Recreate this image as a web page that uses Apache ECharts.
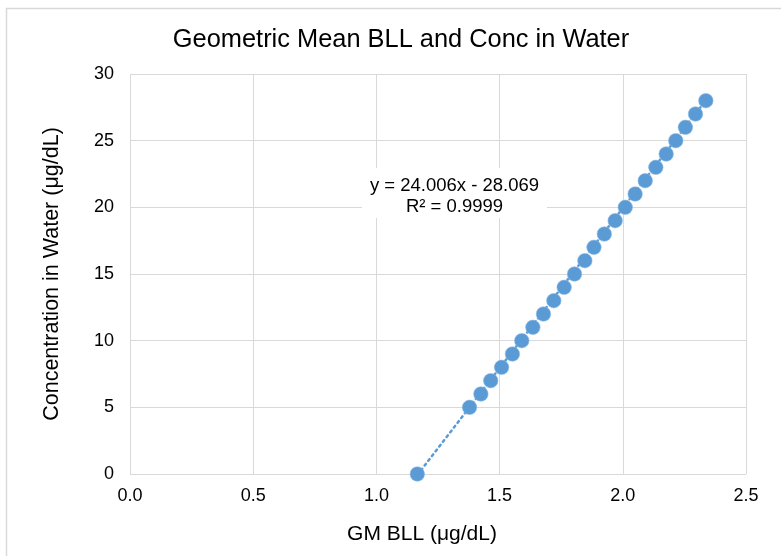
<!DOCTYPE html>
<html>
<head>
<meta charset="utf-8">
<script src="https://cdn.jsdelivr.net/npm/echarts@6/dist/echarts.min.js"></script>
<style>
html,body{margin:0;padding:0;background:#fff;}
#chart{width:781px;height:556px;}
</style>
</head>
<body>
<div id="chart"></div>
<script>
// Data
const gmBLL = [1.166, 1.378, 1.424, 1.464, 1.508, 1.552, 1.590, 1.635, 1.678, 1.720, 1.762, 1.804, 1.846, 1.883, 1.925, 1.969, 2.010, 2.050, 2.091, 2.134, 2.176, 2.215, 2.254, 2.295, 2.337];
const concWater = [0, 5, 6, 7, 8, 9, 10, 11, 12, 13, 14, 15, 16, 17, 18, 19, 20, 21, 22, 23, 24, 25, 26, 27, 28];
// Linear trendline as shown in the reference
const trendSlope = 24.006;
const trendIntercept = -28.069;
const trendR2 = '0.9999';
const trendRangeX = [1.166, 2.337];

const titleText = 'Geometric Mean BLL and Conc in Water';
const xAxisName = 'GM BLL (μg/dL)';
const yAxisName = 'Concentration in Water (μg/dL)';

const points = gmBLL.map((x, i) => [x, concWater[i]]);
const trendPts = trendRangeX.map(x => [x, trendSlope * x + trendIntercept]);

const chart = echarts.init(document.getElementById('chart'));
const FONT = 'Liberation Sans, Arial, sans-serif';
const option = {
  animation: false,
  backgroundColor: '#ffffff',
  textStyle: { fontFamily: FONT },
  title: {
    text: titleText,
    left: 396, top: 22, textAlign: 'center',
    textStyle: { fontFamily: FONT, fontSize: 25.4, fontWeight: 'normal', color: '#000000' }
  },
  grid: { left: 130, right: 35, top: 74, bottom: 82, containLabel: false, outerBoundsMode: 'none' },
  xAxis: {
    type: 'value', min: 0, max: 2.5, interval: 0.5,
    name: xAxisName, nameLocation: 'middle', nameGap: 50,
    nameTextStyle: { fontFamily: FONT, fontSize: 21, color: '#000000', padding: [0, 32, 0, 0] },
    axisLine: { show: false }, axisTick: { show: false },
    axisLabel: { fontFamily: FONT, fontSize: 18, color: '#000000', margin: 13, formatter: v => v.toFixed(1) },
    splitLine: { show: true, lineStyle: { color: '#d9d9d9', width: 1 } }
  },
  yAxis: {
    type: 'value', min: 0, max: 30, interval: 5,
    name: yAxisName, nameLocation: 'middle', nameGap: 67,
    nameTextStyle: { fontFamily: FONT, fontSize: 21.5, color: '#000000' },
    axisLine: { show: false }, axisTick: { show: false },
    axisLabel: { fontFamily: FONT, fontSize: 18, color: '#000000', margin: 16 },
    splitLine: { show: true, lineStyle: { color: '#d9d9d9', width: 1 } }
  },
  series: [
    {
      type: 'line', data: trendPts, symbol: 'none', z: 2,
      lineStyle: { color: '#5b9bd5', width: 2.5, type: [2, 4], cap: 'round' }
    },
    {
      type: 'scatter', data: points, symbol: 'circle', symbolSize: 14.5, z: 3,
      itemStyle: { color: '#5b9bd5', opacity: 1, borderColor: '#8dbae3', borderWidth: 0.6 }
    }
  ],
  graphic: [
    { type: 'rect', shape: { x: 6.5, y: 8.5, width: 800, height: 600 }, style: { fill: 'none', stroke: '#d9d9d9', lineWidth: 1.5 }, z: -10, silent: true },
    { type: 'rect', shape: { x: 362, y: 168, width: 185, height: 50 }, style: { fill: '#ffffff' }, z: 50 },
    { type: 'text', x: 454.5, y: 175, z: 51,
      style: { text: 'y = ' + trendSlope.toFixed(3) + 'x - ' + Math.abs(trendIntercept).toFixed(3) + '\nR² = ' + trendR2,
               fontFamily: FONT, fontSize: 18.5, fill: '#000000', align: 'center', verticalAlign: 'top', lineHeight: 21 } }
  ]
};
chart.setOption(option);
</script>
</body>
</html>
